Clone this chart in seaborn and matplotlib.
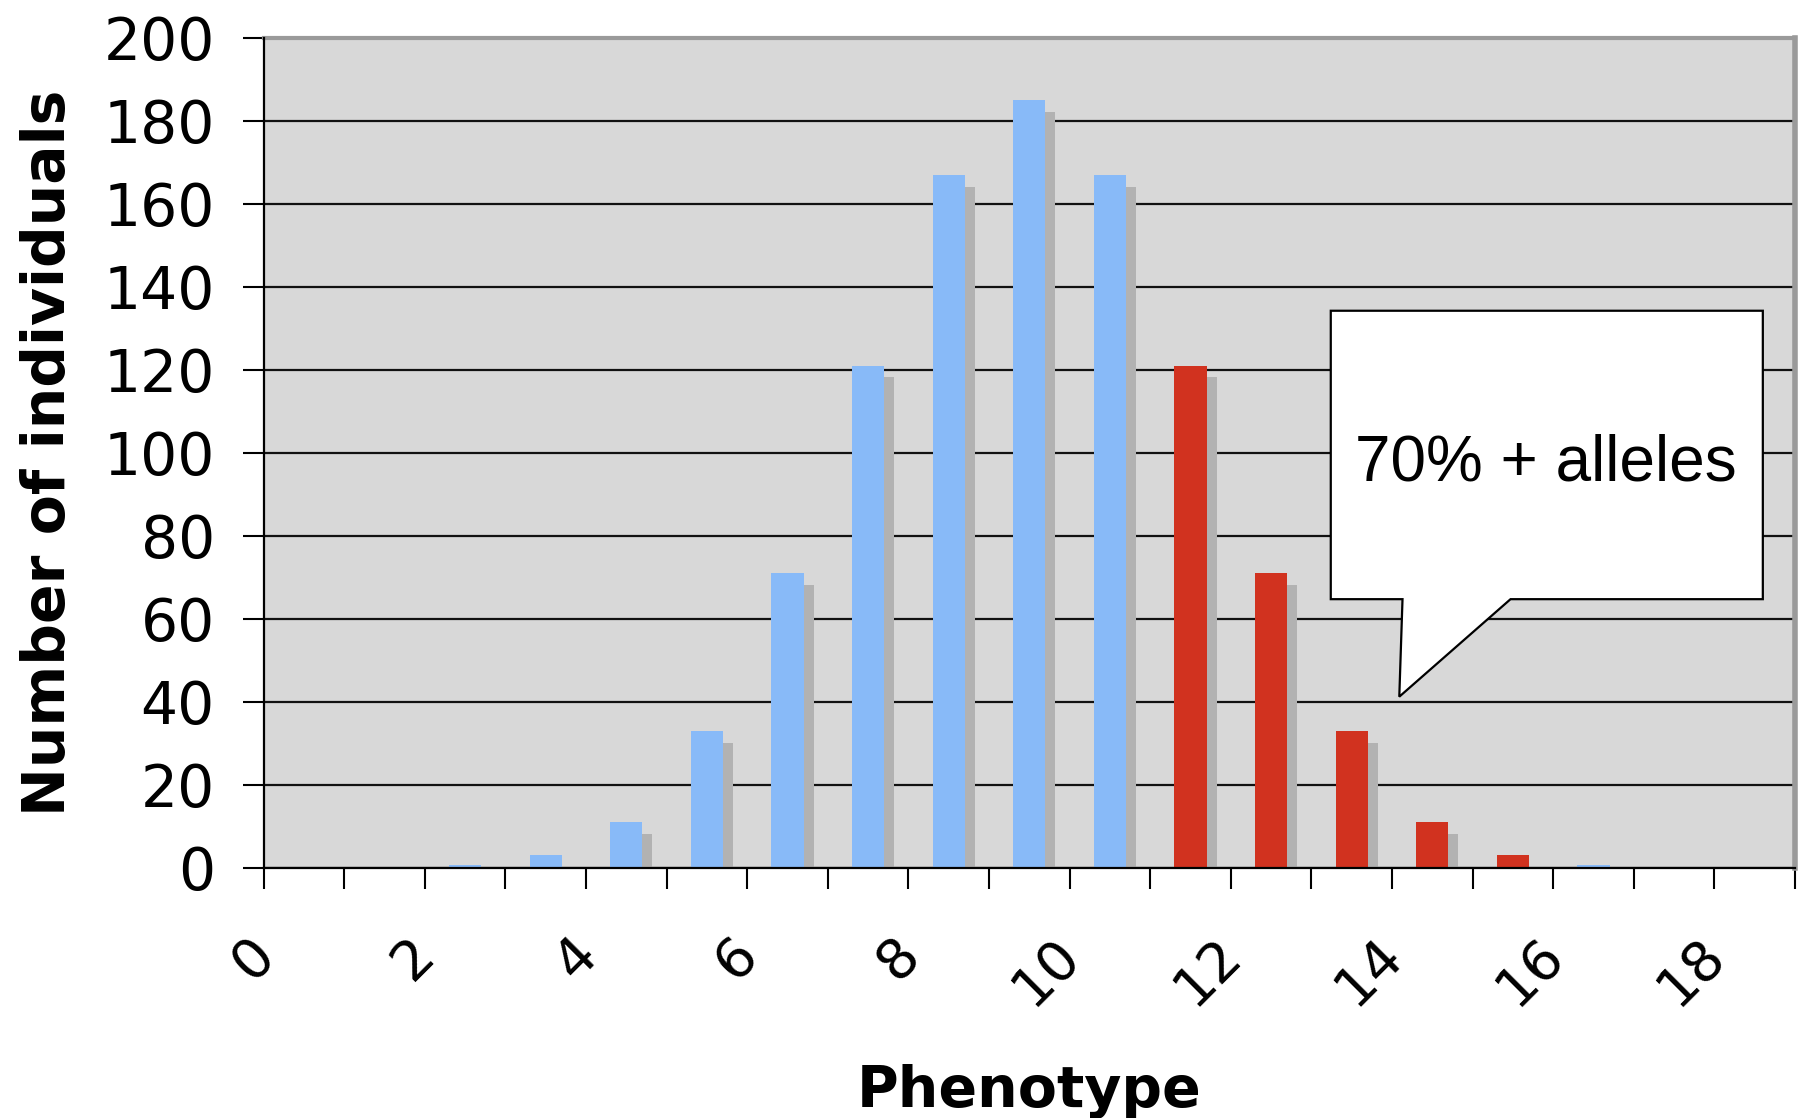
import matplotlib
matplotlib.use("Agg")
import matplotlib.pyplot as plt
import matplotlib.patheffects as pe
from matplotlib.patches import Polygon
from matplotlib.transforms import ScaledTranslation
import pandas as pd
import seaborn as sns

# Phenotype classes (bar sits in the middle of each unit interval)
phenotype = [2, 3, 4, 5, 6, 7, 8, 9, 10, 11, 12, 13, 14, 15, 16]
individuals = [0.6, 3, 11, 33, 71, 121, 167, 185, 167, 121, 71, 33, 11, 3, 0.6]
allele_group = ["rest"] * 9 + ["plus70"] * 5 + ["rest"]

y_ticks = [0, 20, 40, 60, 80, 100, 120, 140, 160, 180, 200]
x_ticks = list(range(0, 20))
x_tick_labels = [str(v) if v % 2 == 0 else "" for v in x_ticks]

callout_text = "70% + alleles"

colors = {"rest": "#88BAF8", "plus70": "#D1321F"}

df = pd.DataFrame({
    "center": [p + 0.5 for p in phenotype],
    "count": individuals,
    "group": allele_group,
})

sns.set_theme(style="white")
plt.rcParams["font.family"] = ["DejaVu Sans"]
plt.rcParams["text.color"] = "black"
plt.rcParams["axes.labelcolor"] = "black"
plt.rcParams["xtick.color"] = "black"
plt.rcParams["ytick.color"] = "black"

fig = plt.figure(figsize=(18.05, 11.18), dpi=100)
ax = fig.add_axes([0.1460, 0.2239, 0.8485, 0.7424])
ax.set_facecolor("#D8D8D8")

sns.barplot(data=df, x="center", y="count", hue="group", palette=colors,
            native_scale=True, width=0.4, dodge=False, legend=False,
            saturation=1, linewidth=0, ax=ax)

shadow = [pe.SimplePatchShadow(offset=(7.2, -8.6), shadow_rgbFace="#B2B2B2", alpha=1.0),
          pe.Normal()]
for cont in ax.containers:
    for bar in cont:
        bar.set_path_effects(shadow)
        bar.set_zorder(3)

ax.set_xlim(0, 19)
ax.set_ylim(0, 200)
ax.set_yticks(y_ticks)
ax.set_xticks(x_ticks)
ax.set_xticklabels(x_tick_labels, rotation=45, ha="right", va="top")

ax.set_axisbelow(True)
ax.yaxis.grid(True, color="#111111", linewidth=1.6)
ax.xaxis.grid(False)

ax.tick_params(axis="y", direction="out", length=15, width=1.5, color="black",
               pad=20, labelsize=42, left=True, labelcolor="black")
ax.tick_params(axis="x", direction="out", length=15, width=1.5, color="black",
               pad=28, labelsize=40, bottom=True, labelcolor="black")

shift = ScaledTranslation(0.21, 0, fig.dpi_scale_trans)
for lab in ax.get_xticklabels():
    lab.set_transform(lab.get_transform() + shift)

for side in ["left", "bottom"]:
    ax.spines[side].set_color("black")
    ax.spines[side].set_linewidth(1.6)
    ax.spines[side].set_zorder(5)
for side in ["top", "right"]:
    ax.spines[side].set_color("#9A9A9A")
    ax.spines[side].set_linewidth(3)
ax.spines["right"].set_linewidth(4)

ax.set_ylabel("Number of individuals", fontsize=42, fontweight="bold", labelpad=0)
ax.set_xlabel("Phenotype", fontsize=41, fontweight="bold", labelpad=0)
ax.yaxis.set_label_coords(-0.122, 0.5)
ax.xaxis.set_label_coords(0.5, -0.236)

# Speech-bubble callout
bubble = [(13.24, 134.2), (18.60, 134.2), (18.60, 64.7), (15.47, 64.7),
          (14.09, 41.2), (14.13, 64.7), (13.24, 64.7)]
ax.add_patch(Polygon(bubble, closed=True, facecolor="white", edgecolor="black",
                     linewidth=1.6, zorder=6))
ax.text(15.91, 97.3, callout_text, fontsize=46, family="Liberation Sans",
        ha="center", va="center", color="black", zorder=7)

fig.savefig("out.png", dpi=100)
